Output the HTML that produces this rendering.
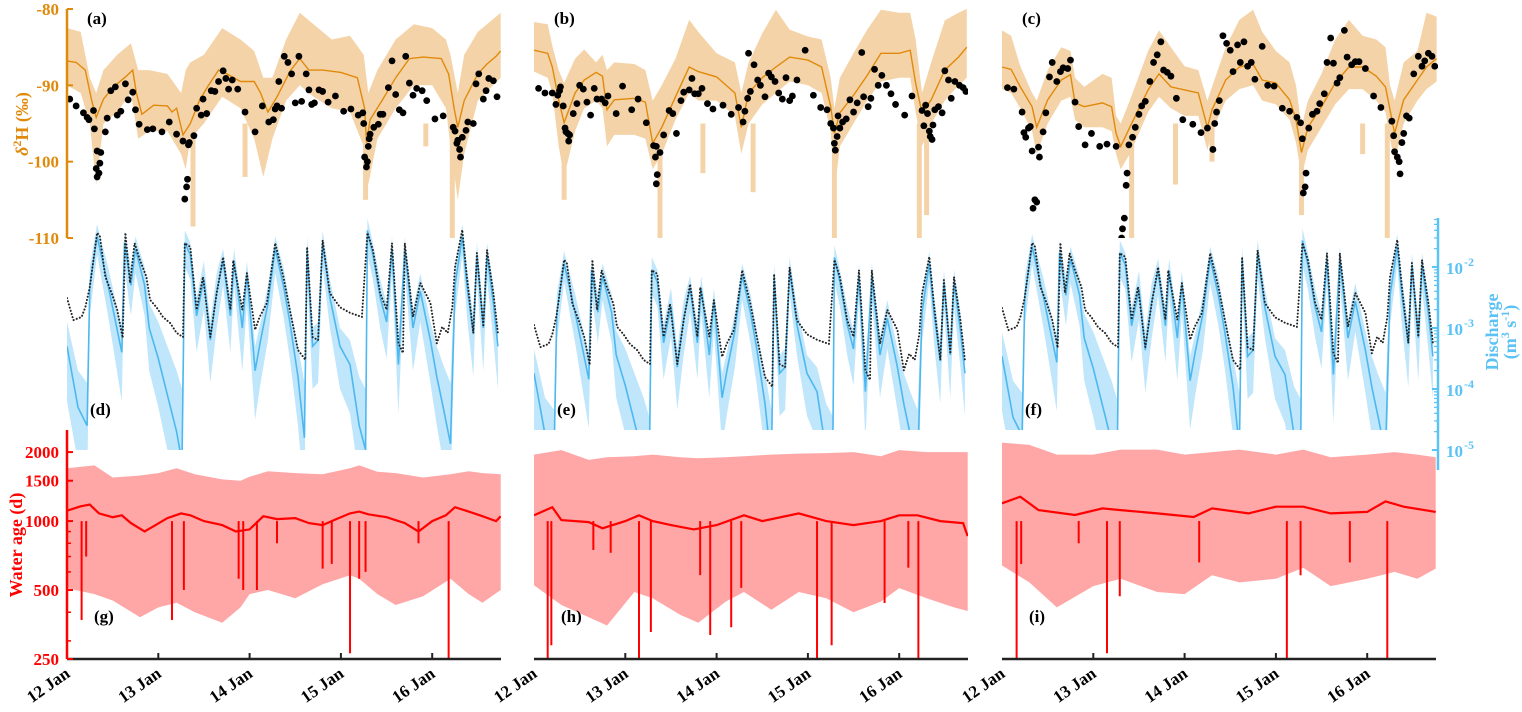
<!DOCTYPE html>
<html><head><meta charset="utf-8">
<style>
html,body{margin:0;padding:0;background:#fff;}
svg{display:block;font-family:"Liberation Serif",serif;font-weight:bold;}
</style></head>
<body>
<svg id="chart" width="1522" height="712" viewBox="0 0 1522 712" xmlns="http://www.w3.org/2000/svg">
<defs>
<clipPath id="ci0"><rect x="67" y="0" width="434" height="238"/></clipPath>
<clipPath id="ci1"><rect x="534" y="0" width="434" height="238"/></clipPath>
<clipPath id="ci2"><rect x="1002" y="0" width="436" height="238"/></clipPath>
<clipPath id="cq0"><rect x="67" y="218" width="434" height="232"/></clipPath>
<clipPath id="cq1"><rect x="534" y="218" width="434" height="212"/></clipPath>
<clipPath id="cq2"><rect x="1002" y="218" width="436" height="212"/></clipPath>
<clipPath id="ca0"><rect x="67" y="430" width="434" height="229"/></clipPath>
<clipPath id="ca1"><rect x="534" y="430" width="434" height="229"/></clipPath>
<clipPath id="ca2"><rect x="1002" y="430" width="436" height="229"/></clipPath>
</defs>
<g id="layer-age"></g>
<g id="layer-q"></g>
<g id="layer-iso"></g>
<g id="layer-axes"></g>
</svg>
<script>
// ---------- isotope data ----------
const isoObsT0 = [12.03,12.10,12.18,12.22,12.24,12.29,12.30,12.33,12.32,12.33,12.35,12.36,12.37,12.42,12.44,12.48,12.53,12.55,12.59,12.64,12.67,12.72,12.75,12.79,12.88,12.94,13.04,13.12,13.20,13.27,13.29,13.31,13.32,13.33,13.34,13.39,13.42,13.47,13.49,13.53,13.58,13.62,13.66,13.71,13.74,13.77,13.81,13.87,13.95,14.06,14.14,14.21,14.26,14.28,14.30,14.32,14.35,14.38,14.42,14.46,14.50,14.54,14.57,14.62,14.65,14.68,14.71,14.76,14.80,14.86,14.94,15.03,15.11,15.19,15.24,15.25,15.26,15.28,15.29,15.30,15.31,15.32,15.36,15.41,15.43,15.46,15.52,15.56,15.60,15.64,15.68,15.71,15.75,15.79,15.83,15.89,15.94,16.03,16.12,16.23,16.25,16.27,16.28,16.30,16.31,16.33,16.37,16.39,16.45,16.48,16.51,16.56,16.59,16.62,16.67,16.71];
const isoObsV0 = [-91.8,-92.7,-93.6,-94.2,-94.5,-93.3,-95.7,-98.6,-100.9,-102,-101.5,-100.2,-98.8,-96.1,-94.3,-90.7,-90.2,-93.9,-93.4,-89.8,-91.9,-90.9,-93.2,-95.1,-95.8,-95.7,-96.1,-94.8,-96.4,-97.3,-104.9,-103.3,-102.3,-97.8,-97.5,-96.6,-93.0,-93.9,-91.8,-93.7,-90.7,-90.8,-89.5,-88.1,-89.1,-90.5,-89.3,-90.5,-93.5,-96.1,-92.7,-94.8,-94.5,-93.1,-92.7,-89.5,-93.0,-86.2,-87.0,-88.5,-92.3,-86.2,-92.1,-88.5,-90.6,-92.5,-92.3,-90.6,-90.8,-92.2,-91.4,-93.4,-93.1,-93.9,-93.6,-95.0,-99.4,-100.7,-100.0,-98.0,-97.0,-96.4,-95.5,-95.1,-93.8,-93.8,-90.3,-86.8,-91.2,-93.2,-93.6,-86.2,-89.7,-91.3,-90.4,-90.7,-92.0,-94.4,-94.0,-95.5,-96.0,-97.6,-97.2,-98.4,-99.4,-96.8,-95.9,-94.8,-95.0,-89.8,-88.5,-91.8,-90.7,-89.1,-89.4,-91.5];
const isoObsT1 = [12.05,12.12,12.20,12.24,12.26,12.28,12.29,12.32,12.34,12.35,12.37,12.38,12.39,12.43,12.47,12.50,12.54,12.58,12.62,12.66,12.69,12.74,12.78,12.81,12.90,12.97,13.07,13.14,13.23,13.31,13.33,13.34,13.35,13.34,13.38,13.42,13.48,13.52,13.56,13.61,13.64,13.70,13.73,13.76,13.80,13.84,13.90,13.96,14.07,14.16,14.24,14.29,14.31,14.34,14.37,14.35,14.41,14.45,14.48,14.53,14.57,14.60,14.64,14.68,14.72,14.76,14.80,14.83,14.88,14.97,15.06,15.14,15.21,15.25,15.28,15.29,15.30,15.32,15.33,15.35,15.38,15.42,15.46,15.50,15.54,15.59,15.61,15.66,15.69,15.73,15.77,15.81,15.86,15.91,15.96,16.06,16.14,16.25,16.27,16.29,16.31,16.33,16.34,16.36,16.37,16.39,16.43,16.47,16.50,16.54,16.57,16.61,16.66,16.70,16.73];
const isoObsV1 = [-90.4,-91.0,-91.0,-92.5,-91.3,-90.7,-90.2,-92.7,-95.6,-96.1,-96.3,-97.3,-96.5,-93.7,-92.4,-90.0,-90.5,-92.2,-93.9,-90.4,-91.8,-91.8,-92.3,-91.4,-93.7,-90.1,-93.2,-91.8,-94.9,-97.9,-99.4,-98.0,-101.7,-102.9,-98.8,-96.5,-93.3,-93.7,-96.3,-92.0,-90.9,-90.6,-89.1,-91.1,-91.1,-90.4,-92.4,-93.1,-92.6,-93.8,-92.9,-94.8,-93.4,-91.7,-90.8,-85.8,-87.3,-89.3,-90.0,-91.5,-88.4,-88.9,-89.5,-91.0,-91.8,-89.0,-92.0,-91.4,-89.3,-85.4,-91.3,-92.9,-93.2,-95.0,-95.6,-97.6,-98.5,-96.7,-94.0,-95.6,-94.8,-94.4,-91.9,-93.5,-92.3,-85.7,-91.5,-92.8,-91.7,-87.9,-90.0,-88.7,-90.0,-91.1,-92.5,-93.9,-91.4,-93.3,-95.3,-92.6,-93.7,-96.0,-96.7,-97.1,-95.2,-93.2,-92.8,-93.6,-88.1,-89.3,-91.7,-89.5,-90.0,-90.3,-90.8];
const isoObsT2 = [12.06,12.13,12.22,12.24,12.26,12.29,12.31,12.33,12.40,12.41,12.36,12.38,12.34,12.45,12.48,12.52,12.55,12.60,12.64,12.67,12.72,12.75,12.80,12.84,12.91,12.98,13.07,13.15,13.25,13.31,13.32,13.34,13.36,13.37,13.39,13.43,13.46,13.50,13.53,13.57,13.62,13.66,13.70,13.74,13.77,13.81,13.85,13.91,13.98,14.09,14.18,14.25,14.31,14.33,14.35,14.38,14.42,14.46,14.50,14.53,14.58,14.61,14.65,14.69,14.73,14.77,14.85,14.91,14.98,15.07,15.15,15.23,15.27,15.29,15.30,15.32,15.33,15.36,15.40,15.45,15.48,15.53,15.56,15.60,15.63,15.67,15.70,15.75,15.78,15.83,15.87,15.91,15.98,16.07,16.15,16.27,16.29,16.30,16.33,16.35,16.36,16.38,16.40,16.43,16.46,16.51,16.56,16.60,16.63,16.67,16.71,16.74];
const isoObsV2 = [-90.3,-90.5,-93.5,-96.2,-96.8,-95.6,-95.4,-98.6,-98.1,-99.4,-105.0,-105.3,-106.1,-96.1,-93.6,-88.9,-87.0,-89.5,-88.2,-87.7,-87.8,-86.7,-92.2,-95.4,-97.8,-96.3,-98.0,-97.7,-98.0,-110.0,-108.8,-107.4,-103.1,-101.5,-97.8,-96.8,-95.5,-93.8,-92.7,-92.1,-89.5,-87.0,-86.0,-84.3,-88.0,-88.3,-88.8,-91.7,-94.5,-95.1,-96.2,-95.6,-98.4,-95.0,-93.5,-92.0,-83.5,-84.5,-85.4,-88.2,-84.7,-87.0,-84.3,-87.5,-87.0,-89.2,-84.9,-90.0,-90.1,-93.0,-93.4,-94.2,-94.9,-97.0,-104.1,-103.3,-101.5,-95.6,-93.8,-93.4,-92.4,-91.1,-87.0,-83.8,-87.1,-89.7,-89.0,-82.8,-86.3,-87.3,-86.9,-86.9,-87.8,-91.4,-92.9,-94.7,-96.6,-98.7,-99.4,-100.0,-101.6,-97.5,-96.3,-94.0,-94.3,-88.5,-86.2,-87.5,-86.8,-85.8,-86.2,-87.5];

const isoModT0 = [12.0,12.1,12.2,12.27,12.32,12.4,12.5,12.65,12.72,12.76,12.82,12.95,13.1,13.15,13.2,13.27,13.35,13.45,13.55,13.66,13.75,13.9,14.05,14.12,14.2,14.3,14.45,14.55,14.65,14.8,15.0,15.18,15.26,15.28,15.32,15.45,15.6,15.75,15.9,16.1,16.18,16.24,16.28,16.35,16.5,16.6,16.7,16.75];
const isoModV0 = [-86.8,-87,-88,-92,-94.2,-91.8,-90.3,-88.8,-88,-91,-93.8,-92.6,-92.7,-93.5,-93,-96.5,-95,-92,-90,-88,-88.5,-89.5,-89.5,-91,-93.5,-91.5,-88,-86.5,-88,-88,-88.3,-89,-93,-97.5,-94.5,-92,-89,-86.5,-86.3,-86.5,-88.5,-93,-95.5,-92,-88.5,-87.2,-86.2,-85.5];
const isoBandT0 = [12.0,12.15,12.25,12.32,12.4,12.55,12.7,12.78,12.9,13.1,13.25,13.3,13.35,13.5,13.7,13.9,14.05,14.15,14.25,14.4,14.55,14.7,14.9,15.1,15.25,15.3,15.4,15.6,15.8,16.0,16.15,16.2,16.28,16.35,16.5,16.75];
const isoBandHi0 = [-82.5,-83,-89,-91,-88,-86,-84.5,-88,-88,-88.5,-91,-88,-87,-86,-82.5,-84,-85.5,-89,-89,-84,-80.5,-82,-84,-83.5,-86,-91,-88,-84,-82,-82.5,-84,-86,-91,-86,-83,-80.5];
const isoBandLo0 = [-90,-91,-95,-103,-95,-93.5,-91,-97,-96,-96,-99,-101,-97,-95,-91.5,-93,-97,-102,-97,-92,-90,-91.5,-93,-93.5,-98,-103,-97,-93,-90,-90,-93,-98,-105,-99,-92,-89];
const isoSpikeT0 = [13.38,13.95,15.27,15.93,16.22];
const isoSpikeV0 = [-108.5,-102,-105,-98,-110];

const isoModT1 = [12.0,12.15,12.2,12.27,12.33,12.45,12.55,12.68,12.75,12.8,12.88,13.1,13.22,13.3,13.4,13.55,13.7,13.8,14.0,14.2,14.27,14.35,14.5,14.65,14.8,15.0,15.15,15.25,15.29,15.35,15.5,15.65,15.8,16.0,16.12,16.18,16.25,16.35,16.5,16.65,16.74];
const isoModV1 = [-85.4,-85.8,-87.6,-91.9,-94.9,-91,-89.3,-88.3,-88.8,-93.2,-91.9,-91.7,-92.2,-97.6,-95.5,-91.5,-87.6,-88.2,-88.9,-91,-95.5,-91,-89,-87.6,-86.3,-86.7,-87.6,-92.8,-96.3,-93.6,-91.3,-88.7,-85.8,-85.8,-85.4,-89.7,-93.6,-91.9,-88,-86.3,-85];
const isoBandHi1 = [-81.7,-82,-84.8,-88,-89.7,-86.5,-85.3,-87,-86,-88,-87,-87.2,-88,-92,-90,-86.5,-81.4,-83,-85.8,-87,-91,-87,-83.2,-80.1,-82.7,-83.6,-84,-89,-93,-89,-85.8,-82.7,-80.1,-80.5,-80.5,-84,-91,-87,-81.5,-80.5,-80];
const isoBandLo1 = [-88.2,-89,-91,-98,-102,-96,-93,-92,-93,-98,-96.5,-96.5,-97,-101,-99,-94.5,-91,-92,-92,-94,-99,-95,-92.5,-91,-89.5,-90,-91,-96,-104,-98,-95,-92,-89.5,-89,-89,-93.5,-98,-95,-92,-90,-89];
const isoSpikeT1 = [12.33,13.38,13.85,14.4,15.29,16.22,16.3];
const isoSpikeV1 = [-105,-110,-101.5,-104,-110,-110,-107];

const isoModT2 = [12.0,12.1,12.2,12.33,12.38,12.5,12.65,12.75,12.8,12.9,13.1,13.2,13.25,13.3,13.4,13.6,13.72,13.85,14.0,14.15,14.25,14.3,14.45,14.6,14.75,14.85,15.0,15.15,15.22,15.28,15.35,15.5,15.65,15.8,15.95,16.1,16.2,16.25,16.3,16.4,16.55,16.65,16.76];
const isoModV2 = [-87.6,-87.9,-90.2,-92.8,-95.5,-91.9,-89.3,-88.6,-92.3,-92.8,-92.3,-92.8,-96.3,-98,-95.5,-90.6,-88.5,-90.2,-90.6,-91,-95.5,-93.2,-89.3,-87.6,-87.2,-89.3,-89.7,-91.9,-94.5,-98.8,-95.5,-92.8,-89.7,-87.6,-87.6,-88.8,-90.2,-93.2,-96.3,-91.9,-89.3,-87.6,-86.5];
const isoBandHi2 = [-82.8,-83.5,-87.5,-91,-92,-88,-85,-85.5,-89,-90.2,-88.5,-89,-94,-95,-92,-85.5,-82.8,-85,-87.5,-88,-92,-90.2,-85,-81.4,-80.1,-83,-85.5,-87,-90,-95.5,-92,-88.5,-84,-81.4,-83.5,-84,-85,-90,-92,-87,-85.5,-80.5,-81];
const isoBandLo2 = [-90.5,-91,-93,-96,-99,-95,-92,-91.5,-94.5,-95.5,-95.5,-96,-99,-101,-99,-93.5,-91.5,-93,-94,-94,-98.5,-96,-92,-90.5,-90,-92,-92.5,-94.5,-97.5,-102,-98.5,-95.5,-92.5,-90.5,-90.5,-92,-93.5,-97,-100,-95,-92,-90.5,-89.5];
const isoSpikeT2 = [13.42,13.9,14.3,15.28,15.95,16.22];
const isoSpikeV2 = [-110,-103,-100,-107,-99,-110];

// ---------- discharge data (log10 m3/s) ----------
const qObsT = [12.0,12.07,12.16,12.2,12.25,12.33,12.36,12.42,12.49,12.55,12.61,12.64,12.69,12.74,12.8,12.87,12.91,12.98,13.05,13.13,13.2,13.27,13.29,13.35,13.42,13.49,13.57,13.64,13.71,13.79,13.82,13.92,13.97,14.06,14.11,14.19,14.28,14.37,14.44,14.53,14.61,14.63,14.69,14.75,14.8,14.88,14.99,15.1,15.23,15.29,15.35,15.43,15.5,15.56,15.63,15.68,15.7,15.79,15.87,15.98,16.05,16.11,16.17,16.22,16.25,16.33,16.38,16.45,16.49,16.56,16.6,16.67,16.72];
const qObsV = [-2.51,-2.87,-2.82,-2.66,-2.33,-1.44,-1.5,-2.16,-2.43,-2.7,-3.16,-1.44,-2.26,-1.61,-1.89,-2.16,-2.54,-2.66,-2.82,-2.92,-3.08,-3.15,-1.61,-1.67,-2.7,-2.16,-3.15,-2.43,-1.84,-2.7,-1.89,-2.7,-2.1,-3.03,-2.82,-2.59,-1.61,-2.16,-2.7,-3.36,-3.52,-1.67,-3.15,-3.2,-1.56,-2.43,-2.66,-2.75,-2.82,-1.44,-1.72,-2.43,-2.7,-1.61,-3.25,-3.41,-1.61,-2.82,-2.26,-2.59,-3.25,-2.98,-3.08,-2.66,-2.0,-1.39,-2.16,-3.08,-1.77,-2.98,-1.72,-2.43,-3.08];
const qModT = [12.0,12.12,12.22,12.25,12.33,12.45,12.6,12.63,12.7,12.75,12.85,12.9,13.0,13.1,13.2,13.26,13.29,13.35,13.42,13.5,13.57,13.64,13.71,13.79,13.83,13.92,13.97,14.06,14.12,14.2,14.28,14.37,14.44,14.53,14.6,14.63,14.69,14.75,14.8,14.88,14.99,15.1,15.2,15.27,15.29,15.35,15.43,15.5,15.56,15.63,15.7,15.79,15.87,15.98,16.05,16.12,16.2,16.25,16.33,16.38,16.45,16.49,16.56,16.6,16.67,16.72];
const qModV = [-3.3,-4.3,-4.6,-2.3,-1.5,-2.3,-3.4,-1.6,-2.3,-1.7,-2.3,-3.0,-3.5,-4.1,-4.7,-5.2,-1.6,-1.8,-2.8,-2.2,-3.2,-2.4,-1.9,-2.8,-1.9,-3.0,-2.1,-3.7,-3.2,-2.6,-1.7,-2.3,-2.9,-3.8,-4.8,-1.7,-3.3,-3.2,-1.6,-2.5,-3.3,-3.6,-4.6,-5.0,-1.4,-1.8,-2.5,-2.9,-1.7,-3.6,-1.7,-3.0,-2.4,-3.2,-3.8,-4.3,-4.9,-2.3,-1.5,-2.3,-3.1,-1.8,-3.0,-1.8,-2.6,-3.3];
const qModHi = [-2.9,-3.7,-3.9,-2.0,-1.3,-2.0,-3.0,-1.4,-2.0,-1.5,-2.0,-2.6,-2.9,-3.3,-3.7,-4.0,-1.4,-1.6,-2.5,-1.9,-2.9,-2.1,-1.7,-2.5,-1.7,-2.7,-1.9,-3.3,-2.9,-2.3,-1.5,-2.0,-2.6,-3.3,-3.9,-1.5,-3.0,-2.9,-1.4,-2.2,-3.0,-3.2,-3.8,-4.0,-1.2,-1.6,-2.2,-2.6,-1.5,-3.2,-1.5,-2.7,-2.1,-2.9,-3.3,-3.6,-3.9,-2.0,-1.3,-2.0,-2.8,-1.6,-2.7,-1.6,-2.3,-3.0];
const qModLo = [-4.2,-5.2,-5.6,-2.8,-1.8,-2.8,-4.2,-2.0,-2.8,-2.1,-2.8,-3.7,-4.3,-5.0,-5.6,-6,-2.0,-2.2,-3.4,-2.7,-3.9,-3.0,-2.3,-3.4,-2.3,-3.7,-2.6,-4.5,-3.9,-3.2,-2.1,-2.8,-3.5,-4.6,-5.8,-2.1,-4.0,-3.9,-2.0,-3.0,-4.0,-4.4,-5.5,-6,-1.8,-2.2,-3.0,-3.5,-2.1,-4.4,-2.1,-3.7,-2.9,-3.9,-4.6,-5.2,-5.8,-2.8,-1.8,-2.8,-3.8,-2.2,-3.7,-2.2,-3.2,-4.0];

// ---------- water age data (days) ----------
const ageT0 = [12.0,12.15,12.25,12.35,12.5,12.6,12.7,12.85,12.95,13.1,13.25,13.35,13.5,13.7,13.85,14.0,14.15,14.3,14.5,14.65,14.8,14.95,15.1,15.2,15.3,15.5,15.7,15.85,16.0,16.15,16.25,16.4,16.55,16.7,16.75];
const ageV0 = [1110,1160,1180,1080,1040,1060,980,900,950,1030,1080,1060,1000,960,900,920,1050,1020,1030,980,960,1020,1080,1100,1070,1040,980,900,1000,1060,1150,1100,1050,1000,1050];
const ageBandT0 = [12.0,12.3,12.5,12.8,13.0,13.2,13.4,13.7,13.9,14.0,14.2,14.5,14.8,15.1,15.2,15.4,15.6,15.9,16.2,16.4,16.55,16.75];
const ageHi0 = [1700,1750,1550,1580,1620,1700,1600,1520,1500,1560,1650,1620,1600,1700,1750,1640,1620,1550,1600,1650,1620,1600];
const ageLo0 = [510,480,450,380,420,440,400,360,420,480,500,460,530,580,560,480,430,470,560,480,440,500];
const ageSpikeT0 = [12.16,12.21,13.15,13.28,13.88,13.93,14.08,14.3,14.8,14.9,15.1,15.2,15.27,15.85,16.18];
const ageSpikeV0 = [370,700,370,500,560,500,500,800,620,650,265,560,600,800,250];

const ageT1 = [12.0,12.2,12.3,12.6,12.75,13.0,13.15,13.3,13.5,13.75,14.0,14.3,14.5,14.9,15.2,15.5,15.8,16.0,16.2,16.45,16.7,16.75];
const ageV1 = [1060,1150,1010,990,930,1000,1060,1000,960,920,960,1060,1000,1080,1000,960,1000,1060,1060,1000,980,860];
const ageBandT1 = [12.0,12.3,12.6,12.8,13.1,13.3,13.6,13.8,14.1,14.3,14.6,14.9,15.2,15.5,15.8,16.0,16.3,16.6,16.75];
const ageHi1 = [1950,2040,1850,1900,1920,1950,1900,1880,1900,1920,1950,1970,1980,2000,1920,2040,2000,2000,2000];
const ageLo1 = [525,430,380,350,490,460,390,360,445,490,410,490,460,400,445,510,460,420,405];
const ageSpikeT1 = [12.15,12.19,12.65,12.84,13.15,13.28,13.82,13.93,14.16,14.27,15.1,15.26,15.84,16.1,16.21];
const ageSpikeV1 = [250,287,748,727,250,328,581,318,344,511,250,287,439,626,250];

const ageT2 = [12.0,12.2,12.4,12.8,13.1,13.3,13.7,14.1,14.3,14.7,15.0,15.3,15.6,16.0,16.2,16.4,16.75];
const ageV2 = [1196,1277,1117,1063,1136,1117,1080,1042,1136,1080,1155,1155,1080,1096,1218,1155,1096];
const ageBandT2 = [12.0,12.3,12.6,13.0,13.3,13.7,14.0,14.3,14.6,15.0,15.3,15.6,16.0,16.3,16.55,16.75];
const ageHi2 = [2200,2150,1950,1950,2050,2050,1950,2000,2050,1950,2050,1900,1950,2000,1950,1900];
const ageLo2 = [640,540,420,520,560,490,480,580,540,560,625,520,560,600,560,620];
const ageSpikeT2 = [12.16,12.21,12.84,13.15,13.29,14.16,15.12,15.27,15.81,16.22];
const ageSpikeV2 = [250,650,800,265,470,660,250,580,660,250];

// ---------- tick labels ----------
const dayTicks = [12,13,14,15,16];
const dayLabels = ["12 Jan","13 Jan","14 Jan","15 Jan","16 Jan"];
const isoTicks = [-80,-90,-100,-110];
const ageTicks = [250,500,1000,1500,2000];
const ageMinor = [300,400,600,700,800,900];
const qTicks = [-2,-3,-4,-5];
const panelLetters = [["(a)","(b)","(c)"],["(d)","(e)","(f)"],["(g)","(h)","(i)"]];

// ---------- axis functions ----------
const NS = "http://www.w3.org/2000/svg";
const X0 = [67,534,1002];
const QTOP = [267,294,277];
function xs(c,t){return X0[c] + (t-12)*91.3;}
function yIso(v){return 9 + (-80 - v)*7.633;}
function yQ(c,l){return QTOP[c] + (-2 - l)*61;}
function yQaxis(l){return 267 + (-2 - l)*61;}
function yAge(v){return 659 - 99.5*Math.log(v/250);}
function mk(tag, attrs, parent){const e=document.createElementNS(NS,tag);for(const k in attrs)e.setAttribute(k,attrs[k]);parent.appendChild(e);return e;}
function linePts(c,T,V,yf){return T.map((t,i)=>xs(c,t).toFixed(1)+","+yf(V[i]).toFixed(1)).join(" ");}
function bandPts(c,T,H,L,yf){const a=T.map((t,i)=>xs(c,t).toFixed(1)+","+yf(H[i]).toFixed(1));const b=T.map((t,i)=>xs(c,t).toFixed(1)+","+yf(L[i]).toFixed(1)).reverse();return a.concat(b).join(" ");}

const gAge=document.getElementById("layer-age"), gQ=document.getElementById("layer-q"), gIso=document.getElementById("layer-iso"), gAx=document.getElementById("layer-axes");

const iso = [
 {obsT:isoObsT0,obsV:isoObsV0,mT:isoModT0,mV:isoModV0,bT:isoBandT0,bH:isoBandHi0,bL:isoBandLo0,sT:isoSpikeT0,sV:isoSpikeV0},
 {obsT:isoObsT1,obsV:isoObsV1,mT:isoModT1,mV:isoModV1,bT:isoModT1,bH:isoBandHi1,bL:isoBandLo1,sT:isoSpikeT1,sV:isoSpikeV1},
 {obsT:isoObsT2,obsV:isoObsV2,mT:isoModT2,mV:isoModV2,bT:isoModT2,bH:isoBandHi2,bL:isoBandLo2,sT:isoSpikeT2,sV:isoSpikeV2}];
const age = [
 {T:ageT0,V:ageV0,bT:ageBandT0,H:ageHi0,L:ageLo0,sT:ageSpikeT0,sV:ageSpikeV0},
 {T:ageT1,V:ageV1,bT:ageBandT1,H:ageHi1,L:ageLo1,sT:ageSpikeT1,sV:ageSpikeV1},
 {T:ageT2,V:ageV2,bT:ageBandT2,H:ageHi2,L:ageLo2,sT:ageSpikeT2,sV:ageSpikeV2}];

for(let c=0;c<3;c++){
  const ga=mk("g",{"clip-path":"url(#ca"+c+")"},gAge);
  
  
  const ab=mk("polygon",{points:bandPts(c,age[c].bT,age[c].H,age[c].L,yAge),fill:"#ffa6a6"},ga);
  
  
  const al=mk("polyline",{points:linePts(c,age[c].T,age[c].V,yAge),fill:"none",stroke:"#ff0000","stroke-width":2.2},ga);
  
  
  age[c].sT.forEach((t,i)=>{
    const base=yAge(1000);
    const s=mk("line",{x1:xs(c,t),x2:xs(c,t),y1:base,y2:yAge(age[c].sV[i]),stroke:"#ff0000","stroke-width":2},ga);
    
    
  });
  const gq=mk("g",{"clip-path":"url(#cq"+c+")"},gQ);
  
  
  const qb=mk("polygon",{points:bandPts(c,qModT,qModHi,qModLo,l=>yQ(c,l)),fill:"#bfe6fb"},gq);
  
  
  const ql=mk("polyline",{points:linePts(c,qModT,qModV,l=>yQ(c,l)),fill:"none",stroke:"#4db8f0","stroke-width":1.6},gq);
  
  
  const qo=mk("polyline",{points:linePts(c,qObsT,qObsV,l=>yQ(c,l)),fill:"none",stroke:"#222","stroke-width":2,"stroke-dasharray":"0.1 3.2","stroke-linecap":"round"},gq);
  
  
  const gi=mk("g",{"clip-path":"url(#ci"+c+")"},gIso);
  
  
  const ib=mk("polygon",{points:bandPts(c,iso[c].bT,iso[c].bH,iso[c].bL,yIso),fill:"#f5d3a8"},gi);
  
  
  iso[c].sT.forEach((t,i)=>{
    const r=mk("rect",{x:xs(c,t)-2.5,y:yIso(-95),width:5,height:yIso(iso[c].sV[i])-yIso(-95),fill:"#f5d3a8"},gi);
    
    
  });
  const il=mk("polyline",{points:linePts(c,iso[c].mT,iso[c].mV,yIso),fill:"none",stroke:"#e08a0c","stroke-width":1.4},gi);
  
  
  iso[c].obsT.forEach((t,i)=>{
    const d=mk("circle",{cx:xs(c,t),cy:yIso(iso[c].obsV[i]),r:3.4,fill:"#000"},gi);
    
    
  });
  const xa=mk("line",{x1:X0[c],x2:X0[c]+434,y1:659,y2:659,stroke:"#222","stroke-width":2.5},gAx);
  
  
  dayTicks.forEach((d,i)=>{
    const x=xs(c,d);
    if(i>0){const tk=mk("line",{x1:x,x2:x,y1:659,y2:653,stroke:"#222","stroke-width":2},gAx);
    
    }
    const tx=mk("text",{x:x+4,y:676,"text-anchor":"end","font-size":17,fill:"#000",transform:"rotate(-35 "+(x+4)+" 676)"},gAx);
    tx.textContent=dayLabels[i];
    
    
  });
  const lp=[[X0[c]+20,24],[X0[c]+23,415],[X0[c]+27,622]];
  for(let r=0;r<3;r++){
    const pl=mk("text",{x:lp[r][0],y:lp[r][1],"font-size":17,fill:"#000"},gAx);
    pl.textContent=panelLetters[r][c];
    
    
  }
}

const ia=mk("line",{x1:67,x2:67,y1:9,y2:238,stroke:"#e08a0c","stroke-width":2.5},gAx);


isoTicks.forEach(v=>{
  const tk=mk("line",{x1:67,x2:73,y1:yIso(v),y2:yIso(v),stroke:"#e08a0c","stroke-width":2},gAx);
  
  
  const t=mk("text",{x:59,y:yIso(v)+6,"text-anchor":"end","font-size":17,fill:"#e08a0c"},gAx);
  t.textContent=String(v);
  
  
});
const aa=mk("line",{x1:67,x2:67,y1:430,y2:659,stroke:"#ff0000","stroke-width":2.5},gAx);


ageTicks.forEach(v=>{
  const tk=mk("line",{x1:67,x2:73,y1:yAge(v),y2:yAge(v),stroke:"#ff0000","stroke-width":2},gAx);
  
  
  const t=mk("text",{x:59,y:yAge(v)+6,"text-anchor":"end","font-size":17,fill:"#ff0000"},gAx);
  t.textContent=String(v);
  
  
});
ageMinor.forEach(v=>{
  const tk=mk("line",{x1:67,x2:71,y1:yAge(v),y2:yAge(v),stroke:"#ff0000","stroke-width":1.5},gAx);
  
  
});
const qa=mk("line",{x1:1438,x2:1438,y1:218,y2:470,stroke:"#5bc2f5","stroke-width":2.5},gAx);


qTicks.forEach(l=>{
  const y=yQaxis(l);
  const tk=mk("line",{x1:1432,x2:1438,y1:y,y2:y,stroke:"#5bc2f5","stroke-width":2},gAx);
  
  
  const t=mk("text",{x:1446,y:y+7,"font-size":17,fill:"#5bc2f5"},gAx);
  t.textContent="10";
  
  
  const s=mk("tspan",{dx:1,dy:-8,"font-size":12},t);
  s.textContent=String(l);
  for(let m=2;m<10;m++){
    const ym=yQaxis(l+Math.log10(m));
    if(ym<218)continue;
    const mt=mk("line",{x1:1434,x2:1438,y1:ym,y2:ym,stroke:"#5bc2f5","stroke-width":1.2},gAx);
    
    
  }
});

(function(){
 const svg=document.getElementById("chart");
 function T(txt,attrs,name){const e=document.createElementNS(NS,"text");for(const k in attrs)e.setAttribute(k,attrs[k]);e.textContent=txt;svg.appendChild(e);
 
 
 return e;}
 const a=T("",{transform:"translate(28 124) rotate(-90)","text-anchor":"middle","font-size":18,fill:"#e08a0c"},"isotope-y-axis-title");
 const p1=document.createElementNS(NS,"tspan");p1.setAttribute("font-style","italic");p1.textContent="δ";a.appendChild(p1);
 const p2=document.createElementNS(NS,"tspan");p2.setAttribute("dy","-7");p2.setAttribute("font-size","12");p2.textContent="2";a.appendChild(p2);
 const p3=document.createElementNS(NS,"tspan");p3.setAttribute("dy","7");p3.textContent="H (‰)";a.appendChild(p3);
 T("Water age (d)",{transform:"translate(22 545) rotate(-90)","text-anchor":"middle","font-size":18,fill:"#ff0000"},"water-age-y-axis-title");
 T("Discharge",{transform:"translate(1498 332) rotate(-90)","text-anchor":"middle","font-size":18,fill:"#5bc2f5"},"discharge-y-axis-title");
 const u=T("",{transform:"translate(1516 332) rotate(-90)","text-anchor":"middle","font-size":18,fill:"#5bc2f5"},"discharge-y-axis-units");
 const parts=[["(m",0,18],["3",-7,12],[" s",7,18],["-1",-7,12],[")",7,18]];
 parts.forEach(p=>{const s=document.createElementNS(NS,"tspan");s.setAttribute("dy",p[1]);s.setAttribute("font-size",p[2]);s.textContent=p[0];u.appendChild(s);});
})();
</script>
</body></html>
